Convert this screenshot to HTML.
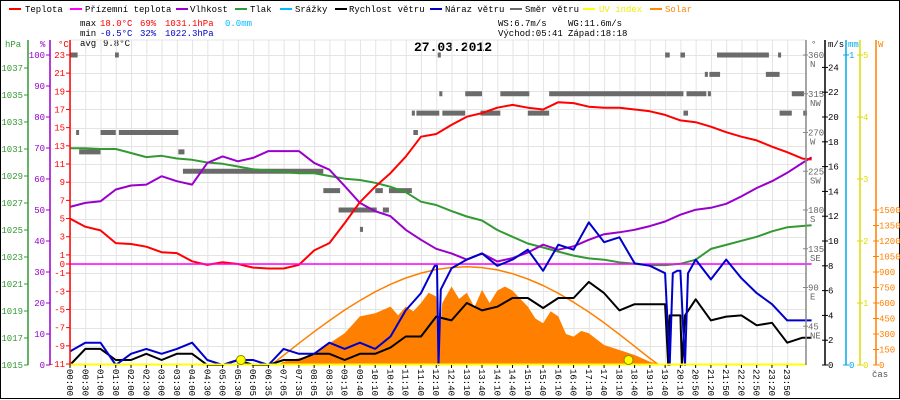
<!DOCTYPE html>
<html><head><meta charset="utf-8"><style>
html,body{margin:0;padding:0;background:#fff}
svg{display:block}
text{font-family:"Liberation Mono",monospace;font-size:9px}
</style></head><body>
<svg id="chart" width="900" height="400" viewBox="0 0 900 400" xmlns="http://www.w3.org/2000/svg">
<rect x="0.5" y="0.5" width="899" height="398" fill="#fff" stroke="#000"/>
<g id="legend">
 <g><rect x="9" y="8" width="12" height="2" fill="#f00"/><text x="25" y="12">Teplota</text></g>
 <g><rect x="70" y="8" width="12" height="2" fill="#f0f"/><text x="85" y="12">Přízemní teplota</text></g>
 <g><rect x="176" y="8" width="12" height="2" fill="#90c"/><text x="190" y="12">Vlhkost</text></g>
 <g><rect x="235" y="8" width="12" height="2" fill="#393"/><text x="250" y="12">Tlak</text></g>
 <g><rect x="280" y="8" width="12" height="2" fill="#0bf"/><text x="295" y="12">Srážky</text></g>
 <g><rect x="335" y="8" width="12" height="2" fill="#000"/><text x="349" y="12">Rychlost větru</text></g>
 <g><rect x="430" y="8" width="12" height="2" fill="#00c"/><text x="445" y="12">Náraz větru</text></g>
 <g><rect x="510" y="8" width="12" height="2" fill="#6b6b6b"/><text x="525" y="12">Směr větru</text></g>
 <g><rect x="583" y="8" width="12" height="2" fill="#ff0"/><text x="599" y="12" fill="#ee0">UV index</text></g>
 <g><rect x="650" y="8" width="12" height="2" fill="#f80"/><text x="665" y="12" fill="#f80">Solar</text></g>
</g>
<g>
 <text x="80" y="26">max</text><text x="100" y="26" fill="#f00">18.0°C</text><text x="140" y="26" fill="#f00">69%</text><text x="165" y="26" fill="#f00">1031.1hPa</text><text x="225" y="26" fill="#0bf">0.0mm</text>
 <text x="80" y="36">min</text><text x="100" y="36" fill="#00c">-0.5°C</text><text x="140" y="36" fill="#00c">32%</text><text x="165" y="36" fill="#00c">1022.3hPa</text>
 <text x="80" y="46">avg</text><text x="103" y="46">9.8°C</text>
 <text x="498" y="26">WS:6.7m/s</text><text x="568" y="26">WG:11.6m/s</text>
 <text x="498" y="36">Východ:05:41</text><text x="568" y="36">Západ:18:18</text>
</g>
<text x="414" y="51" style="font-size:13px;font-weight:bold">27.03.2012</text>
<g id="grid"></g>
<g id="marks"></g>
<g id="axes"></g>
</svg>
<script>
// ---- data ----
const timeLabels=["00:00","00:30","01:00","01:30","02:00","02:30","03:00","03:30","04:00","04:30","05:00","05:30","06:05","06:35","07:05","07:35","08:05","08:35","09:10","09:40","10:10","10:40","11:10","11:40","12:10","12:40","13:10","13:40","14:10","14:40","15:10","15:40","16:10","16:40","17:10","17:40","18:10","18:40","19:10","19:40","20:10","20:50","21:20","21:50","22:20","22:50","23:20","23:50"];
const tempValues=[5.0,4.1,3.7,2.3,2.2,1.9,1.3,1.2,0.3,-0.1,0.2,0,-0.4,-0.5,-0.5,-0.1,1.5,2.3,4.5,6.8,8.5,10,11.8,14,14.3,15.3,16.2,16.6,17.2,17.5,17.2,17,17.8,17.7,17.3,17.2,17.2,17,16.8,16.4,15.8,15.6,15.1,14.5,14,13.6,12.9,12.3,11.6,11.5];
const humValues=[51,52.3,52.8,56.6,57.9,58.2,60.9,59.3,58.2,65.2,67.3,65.7,66.8,69,69,69,65.2,63,57.7,52.3,49.6,48,43.6,40.4,37.5,36,34,36,33.4,34.5,36.3,38.8,37.2,38.3,40.4,42.2,42.8,43.6,44.8,46.3,48.5,50.1,50.7,52,54.4,57.1,59.3,62,65.2,67];
const pressValues=[1031.06,1031.06,1031.0,1031.0,1030.7,1030.4,1030.5,1030.3,1030.2,1030.0,1029.9,1029.7,1029.5,1029.4,1029.3,1029.2,1029.2,1029.0,1028.8,1028.7,1028.5,1028.2,1027.8,1027.1,1026.85,1026.4,1026.0,1025.7,1025.0,1024.5,1024.0,1023.7,1023.4,1023.1,1022.9,1022.8,1022.6,1022.5,1022.4,1022.4,1022.5,1022.8,1023.6,1023.9,1024.2,1024.5,1024.9,1025.2,1025.3,1025.35];
const groundTempValues=[0,0];
const windSlots=[0,1,2,3,4,5,6,7,8,9,10,11,12,13,14,15,16,17,18,19,20,21,22,23,24,25,26,27,28,29,30,31,32,33,34,35,36,37,38,39,39.2,39.3,39.5,40,40.1,40.3,41,42,43,44,45,46,47,48,48.6];
const windValues=[0,1.3,1.3,0.4,0.4,0.9,0.4,0.9,0.9,0,0,0.4,0,0,0.4,0.4,0.9,0.9,0.4,0.9,0.9,1.4,2.3,2.3,3.9,3.6,5.0,4.4,4.7,5.4,5.4,4.6,5.4,5.4,6.7,5.8,4.4,4.9,4.9,4.9,0,4.0,4.0,4.0,0,4.0,5.3,3.6,3.9,4.0,3.2,3.4,1.8,2.2,2.2];
const gustSlots=[0,1,2,3,4,5,6,7,8,9,10,11,12,13,14,15,16,17,18,19,20,21,22,23,23.9,24.05,24.15,24.3,25,26,27,28,29,30,31,32,33,34,35,36,37,38,39,39.3,39.5,39.8,40,40.3,40.5,41,42,43,44,45,46,47,48,48.6];
const gustValues=[1.1,1.8,1.8,0,0.9,1.3,0.9,1.3,1.8,0.4,0,0.4,0.4,0,1.3,0.9,0.9,1.8,1.3,1.8,1.3,2.3,4.4,5.8,8.0,8.0,0,6.1,7.8,8.5,9.0,8.0,8.5,9.3,7.6,9.7,9.3,11.5,9.9,10.3,8.2,8.0,7.4,0,7.4,7.6,7.6,0,7.4,8.5,6.9,8.5,7.0,5.8,4.9,3.6,3.6,3.6];
const solarSlots=[13.5,14,15,16,17,18,19,20,21,21.5,22,22.5,23,23.5,24,24.2,24.4,25,25.5,26,26.5,27,27.5,28,28.5,29,30,30.5,31,31.5,32,32.5,33,33.5,34,35,36,37,38,39];
const solarValues=[0,32,65,97,210,307,470,500,565,480,565,520,600,700,663,250,600,760,640,700,560,727,600,720,760,720,565,450,404,520,470,300,275,330,307,194,145,97,32,0];
const clearSkySlots=[13.2,14,15,16,17,18,19,20,21,22,23,24,25,26,27,28,29,30,31,32,33,34,35,36,37,38,38.6];
const clearSkyValues=[0,94,210,322,430,532,624,708,781,842,889,924,944,950,943,920,884,832,769,694,608,513,408,296,181,64,0];
const dirStart=[0,0.4,0.6,2,2.95,3.2,7.1,7.4,16.6,17.6,19,20,20.5,20.9,22.4,22.5,22.7,24.1,24.2,24.4,25.9,26.9,28.2,30,31.4,39,39.1,40,40.2,40.4,41.6,41.8,41.9,42.4,45.6,46.4,46.5,47.3,48.05];
const dirEnd=[0.5,0.55,2,3,3.2,7.1,7.5,16.6,17.7,20.1,19.2,20.5,20.9,22.4,22.6,22.8,24.2,24.3,24.4,25.9,27,28.2,30.1,31.4,39.1,39.3,40.2,40.3,40.5,41.7,41.8,42,42.6,45.8,46.5,46.6,47.3,48.1,48.3];
const dirDeg=[360,270,247.5,270,360,270,247.5,225,202.5,180,157.5,202.5,180,202.5,292.5,270,292.5,360,315,292.5,315,292.5,315,292.5,315,360,315,360,292.5,315,337.5,315,337.5,360,337.5,360,292.5,315,292.5];
const tempTicks=[23,21,19,17,15,13,11,9,7,5,3,1,0,-1,-3,-5,-7,-9,-11];
const pressTicks=[1037,1035,1033,1031,1029,1027,1025,1023,1021,1019,1017,1015];
const humTicks=[100,90,80,70,60,50,40,30,20,10,0];
const windTicks=[24,22,20,18,16,14,12,10,8,6,4,2,0];
const dirTicks=[360,315,270,225,180,135,90,45];
const dirNames=["N","NW","W","SW","S","SE","E","NE"];
const rainTicks=[1,0];
const uvTicks=[5,4,3,2,1,0];
const solarTicks=[1500,1350,1200,1050,900,750,600,450,300,150,0];
const sunEvents=[11.2,36.6];

// ---- scales ----
const X0=70,X1=806,Y0=55,YB=365,STEP=15.26;
const xs=i=>X0+i*STEP;
const yT=t=>264-t*9.09;
const yP=p=>YB-(p-1015)*13.5;
const yH=h=>YB-h*3.1;
const yWS=v=>YB-v*12.4;
const yW=w=>YB-w*310/3000;
const yD=d=>YB-d*310/360;
const yMM=m=>YB-m*310;
const yUV=u=>YB-u*62;

const NS="http://www.w3.org/2000/svg";
function mk(tag,attrs,parent){const e=document.createElementNS(NS,tag);for(const k in attrs)e.setAttribute(k,attrs[k]);parent.appendChild(e);return e;}
const grid=document.getElementById('grid'),marks=document.getElementById('marks'),axes=document.getElementById('axes');

// grid
mk('line',{x1:X0,y1:40,x2:X1,y2:40,stroke:'#e4e4e4'},grid);
for(let i=0;i<timeLabels.length;i++){const x=xs(i)+0.5;mk('line',{x1:x,y1:40,x2:x,y2:YB,stroke:'#e4e4e4'},grid);}
tempTicks.forEach(t=>{const y=Math.round(yT(t))+0.5;mk('line',{x1:X0,y1:y,x2:X1,y2:y,stroke:'#e4e4e4'},grid);});

// direction blocks
for(let k=0;k<dirDeg.length;k++){
 const r=mk('rect',{x:xs(dirStart[k]),y:yD(dirDeg[k])-2.5,width:Math.max(3,xs(dirEnd[k])-xs(dirStart[k])),height:5,fill:'#6b6b6b'},marks);
 
 
}
// solar fill
{let d='M'+xs(solarSlots[0])+','+YB;solarSlots.forEach((s,k)=>{d+=' L'+xs(s).toFixed(1)+','+yW(solarValues[k]).toFixed(1);});d+=' L'+xs(solarSlots[solarSlots.length-1])+','+YB+'Z';
 const p=mk('path',{d:d,fill:'#ff8000'},marks);
 
 }
function line(slots,vals,fy,color,w,name){
 const pts=vals.map((v,k)=>xs(slots?slots[k]:k).toFixed(1)+','+fy(v).toFixed(1)).join(' ');
 const p=mk('polyline',{points:pts,fill:'none',stroke:color,'stroke-width':w,'stroke-linejoin':'round'},marks);
 
 
}
const idxEnd=v=>v.map((_,k)=>k===48+1?48.6:k);
line(clearSkySlots,clearSkyValues,yW,'#ff8000',1.5,'solar-clear-sky-line');
line(idxEnd(pressValues),pressValues,yP,'#339933',2,'pressure-line');
line(idxEnd(humValues),humValues,yH,'#9900cc',2,'humidity-line');
line(idxEnd(tempValues),tempValues,yT,'#ff0000',2,'temperature-line');
line([0,48.6],groundTempValues,yT,'#ff00ff',1.5,'ground-temperature-line');
line(windSlots,windValues,yWS,'#000000',2,'wind-speed-line');
line(gustSlots,gustValues,yWS,'#0000cc',2,'wind-gust-line');
{const u=mk('line',{x1:X0,y1:YB-0.5,x2:X1,y2:YB-0.5,stroke:'#ffff00','stroke-width':2},marks);
 
 }
sunEvents.forEach(s=>{const c=mk('circle',{cx:xs(s),cy:YB-5,r:4.5,fill:'#ffff00',stroke:'#888800','stroke-width':1},marks);
 
 });

// axes
function vline(x,color){mk('line',{x1:x,y1:40,x2:x,y2:YB,stroke:color,'stroke-width':1.5},axes);}
function ticksLeft(x,vals,fy,color,name){vline(x,color);vals.forEach(v=>{const y=fy(v);mk('line',{x1:x-4,y1:y,x2:x,y2:y,stroke:color},axes);
 const t=mk('text',{x:x-5,y:y+3,fill:color,'text-anchor':'end'},axes);t.textContent=v;
 
 });}
function ticksRight(x,vals,fy,color,name){vline(x,color);vals.forEach(v=>{const y=fy(v);mk('line',{x1:x-3,y1:y,x2:x+3,y2:y,stroke:color},axes);
 const t=mk('text',{x:x+3,y:y+3,fill:color},axes);t.textContent=v;
 
 });}
ticksLeft(28,pressTicks,yP,'#339933','pressure-tick-label');
ticksLeft(50,humTicks,yH,'#9900cc','humidity-tick-label');
ticksLeft(70,tempTicks,yT,'#ff0000','temperature-tick-label');
vline(806,'#888');
dirTicks.forEach((d,k)=>{const y=yD(d);mk('line',{x1:803,y1:y,x2:808,y2:y,stroke:'#888'},axes);
 const t=mk('text',{x:808,y:y+3,fill:'#666'},axes);t.textContent=d;
 
 
 const n=mk('text',{x:810,y:y+12,fill:'#666'},axes);n.textContent=dirNames[k];
 
 });
ticksRight(825,windTicks,yWS,'#000','wind-tick-label');
ticksRight(846,rainTicks,yMM,'#00aaee','rain-tick-label');
ticksRight(860,uvTicks,yUV,'#dddd00','uv-tick-label');
ticksRight(876,solarTicks,yW,'#ff8000','solar-tick-label');
[['hPa',5,'#339933'],['%',40,'#9900cc'],['°C',58,'#ff0000'],['°',811,'#666'],['m/s',828,'#000'],['mm',848,'#00aaee'],['W',878,'#ff8000']].forEach(a=>{
 const t=mk('text',{x:a[1],y:47,fill:a[2]},axes);t.textContent=a[0];
 
 });
// x axis labels
timeLabels.forEach((l,i)=>{const x=xs(i);mk('line',{x1:x,y1:YB,x2:x,y2:YB+3,stroke:'#000'},axes);
 const t=mk('text',{x:0,y:0,transform:'translate('+(x-3)+','+(YB+4)+') rotate(90)'},axes);t.textContent=l;
 
 });
{const t=mk('text',{x:872,y:377,fill:'#555'},axes);t.textContent='čas';
 
 }
</script>
</body></html>
